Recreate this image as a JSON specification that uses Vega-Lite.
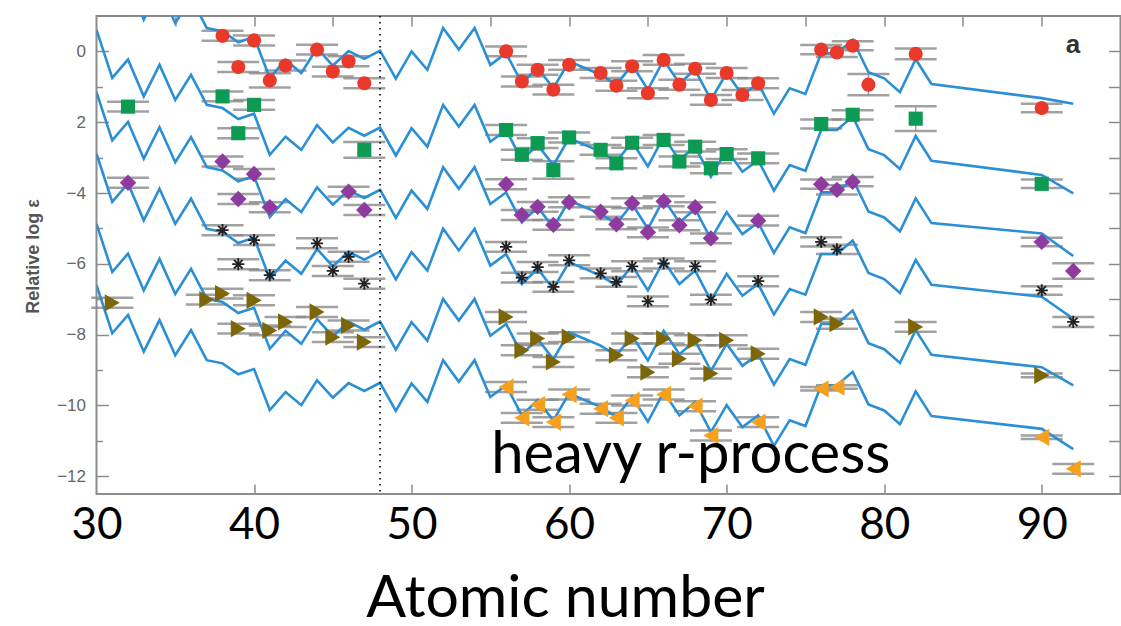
{
  "$schema": "https://vega.github.io/schema/vega-lite/v6.json",
  "width": 1024,
  "height": 478,
  "autosize": {"type": "none"},
  "padding": {"left": 96.5, "top": 16, "right": 0.5, "bottom": 132},
  "background": "white",
  "config": {
    "view": {"stroke": "#8c8c8c", "strokeWidth": 2},
    "axis": {"domain": false, "grid": false, "tickColor": "#8c8c8c", "tickWidth": 1.5}
  },
  "datasets": {
    "lines": [
      {"s":"red","z":30,"v":2.78},{"s":"red","z":31,"v":1.42},{"s":"red","z":32,"v":1.94},{"s":"red","z":33,"v":0.90},{"s":"red","z":34,"v":1.79},{"s":"red","z":35,"v":0.80},{"s":"red","z":36,"v":1.51},{"s":"red","z":37,"v":0.66},{"s":"red","z":38,"v":0.57},{"s":"red","z":39,"v":0.26},{"s":"red","z":40,"v":0.41},{"s":"red","z":41,"v":-0.75},{"s":"red","z":42,"v":-0.24},{"s":"red","z":43,"v":-0.61},{"s":"red","z":44,"v":0.09},{"s":"red","z":45,"v":-0.40},{"s":"red","z":46,"v":0.01},{"s":"red","z":47,"v":-0.21},{"s":"red","z":48,"v":0.02},{"s":"red","z":49,"v":-0.77},{"s":"red","z":50,"v":0.00},{"s":"red","z":51,"v":-0.52},{"s":"red","z":52,"v":0.66},{"s":"red","z":53,"v":0.05},{"s":"red","z":54,"v":0.66},{"s":"red","z":55,"v":-0.38},{"s":"red","z":56,"v":-0.05},{"s":"red","z":57,"v":-0.90},{"s":"red","z":58,"v":-0.47},{"s":"red","z":59,"v":-1.04},{"s":"red","z":60,"v":-0.28},{"s":"red","z":62,"v":-0.66},{"s":"red","z":63,"v":-0.94},{"s":"red","z":64,"v":-0.38},{"s":"red","z":65,"v":-1.08},{"s":"red","z":66,"v":-0.24},{"s":"red","z":67,"v":-0.90},{"s":"red","z":68,"v":-0.52},{"s":"red","z":69,"v":-1.37},{"s":"red","z":70,"v":-0.61},{"s":"red","z":71,"v":-1.23},{"s":"red","z":72,"v":-0.90},{"s":"red","z":73,"v":-1.76},{"s":"red","z":74,"v":-1.04},{"s":"red","z":75,"v":-1.20},{"s":"red","z":76,"v":-0.05},{"s":"red","z":77,"v":-0.05},{"s":"red","z":78,"v":0.33},{"s":"red","z":79,"v":-0.59},{"s":"red","z":80,"v":-0.76},{"s":"red","z":81,"v":-1.15},{"s":"red","z":82,"v":-0.22},{"s":"red","z":83,"v":-0.92},{"s":"red","z":90,"v":-1.32},{"s":"red","z":92,"v":-1.48},

      {"s":"green","z":30,"v":0.61},{"s":"green","z":31,"v":-0.75},{"s":"green","z":32,"v":-0.23},{"s":"green","z":33,"v":-1.27},{"s":"green","z":34,"v":-0.38},{"s":"green","z":35,"v":-1.37},{"s":"green","z":36,"v":-0.66},{"s":"green","z":37,"v":-1.51},{"s":"green","z":38,"v":-1.60},{"s":"green","z":39,"v":-1.91},{"s":"green","z":40,"v":-1.76},{"s":"green","z":41,"v":-2.92},{"s":"green","z":42,"v":-2.41},{"s":"green","z":43,"v":-2.78},{"s":"green","z":44,"v":-2.08},{"s":"green","z":45,"v":-2.57},{"s":"green","z":46,"v":-2.16},{"s":"green","z":47,"v":-2.38},{"s":"green","z":48,"v":-2.15},{"s":"green","z":49,"v":-2.94},{"s":"green","z":50,"v":-2.17},{"s":"green","z":51,"v":-2.69},{"s":"green","z":52,"v":-1.51},{"s":"green","z":53,"v":-2.12},{"s":"green","z":54,"v":-1.51},{"s":"green","z":55,"v":-2.55},{"s":"green","z":56,"v":-2.22},{"s":"green","z":57,"v":-3.07},{"s":"green","z":58,"v":-2.64},{"s":"green","z":59,"v":-3.21},{"s":"green","z":60,"v":-2.45},{"s":"green","z":62,"v":-2.83},{"s":"green","z":63,"v":-3.11},{"s":"green","z":64,"v":-2.55},{"s":"green","z":65,"v":-3.25},{"s":"green","z":66,"v":-2.41},{"s":"green","z":67,"v":-3.07},{"s":"green","z":68,"v":-2.69},{"s":"green","z":69,"v":-3.54},{"s":"green","z":70,"v":-2.78},{"s":"green","z":71,"v":-3.40},{"s":"green","z":72,"v":-3.07},{"s":"green","z":73,"v":-3.93},{"s":"green","z":74,"v":-3.21},{"s":"green","z":75,"v":-3.37},{"s":"green","z":76,"v":-2.22},{"s":"green","z":77,"v":-2.22},{"s":"green","z":78,"v":-1.84},{"s":"green","z":79,"v":-2.76},{"s":"green","z":80,"v":-2.93},{"s":"green","z":81,"v":-3.32},{"s":"green","z":82,"v":-2.39},{"s":"green","z":83,"v":-3.09},{"s":"green","z":90,"v":-3.49},{"s":"green","z":92,"v":-4.01},

      {"s":"purple","z":30,"v":-1.15},{"s":"purple","z":31,"v":-2.51},{"s":"purple","z":32,"v":-1.99},{"s":"purple","z":33,"v":-3.03},{"s":"purple","z":34,"v":-2.14},{"s":"purple","z":35,"v":-3.13},{"s":"purple","z":36,"v":-2.42},{"s":"purple","z":37,"v":-3.27},{"s":"purple","z":38,"v":-3.36},{"s":"purple","z":39,"v":-3.67},{"s":"purple","z":40,"v":-3.52},{"s":"purple","z":41,"v":-4.68},{"s":"purple","z":42,"v":-4.17},{"s":"purple","z":43,"v":-4.54},{"s":"purple","z":44,"v":-3.84},{"s":"purple","z":45,"v":-4.33},{"s":"purple","z":46,"v":-3.92},{"s":"purple","z":47,"v":-4.14},{"s":"purple","z":48,"v":-3.91},{"s":"purple","z":49,"v":-4.70},{"s":"purple","z":50,"v":-3.93},{"s":"purple","z":51,"v":-4.45},{"s":"purple","z":52,"v":-3.27},{"s":"purple","z":53,"v":-3.88},{"s":"purple","z":54,"v":-3.27},{"s":"purple","z":55,"v":-4.31},{"s":"purple","z":56,"v":-3.98},{"s":"purple","z":57,"v":-4.83},{"s":"purple","z":58,"v":-4.40},{"s":"purple","z":59,"v":-4.97},{"s":"purple","z":60,"v":-4.21},{"s":"purple","z":62,"v":-4.59},{"s":"purple","z":63,"v":-4.87},{"s":"purple","z":64,"v":-4.31},{"s":"purple","z":65,"v":-5.01},{"s":"purple","z":66,"v":-4.17},{"s":"purple","z":67,"v":-4.83},{"s":"purple","z":68,"v":-4.45},{"s":"purple","z":69,"v":-5.30},{"s":"purple","z":70,"v":-4.54},{"s":"purple","z":71,"v":-5.16},{"s":"purple","z":72,"v":-4.83},{"s":"purple","z":73,"v":-5.69},{"s":"purple","z":74,"v":-4.97},{"s":"purple","z":75,"v":-5.13},{"s":"purple","z":76,"v":-3.98},{"s":"purple","z":77,"v":-3.98},{"s":"purple","z":78,"v":-3.60},{"s":"purple","z":79,"v":-4.52},{"s":"purple","z":80,"v":-4.69},{"s":"purple","z":81,"v":-5.08},{"s":"purple","z":82,"v":-4.15},{"s":"purple","z":83,"v":-4.85},{"s":"purple","z":90,"v":-5.14},{"s":"purple","z":92,"v":-5.78},

      {"s":"black","z":30,"v":-2.89},{"s":"black","z":31,"v":-4.25},{"s":"black","z":32,"v":-3.73},{"s":"black","z":33,"v":-4.77},{"s":"black","z":34,"v":-3.88},{"s":"black","z":35,"v":-4.87},{"s":"black","z":36,"v":-4.16},{"s":"black","z":37,"v":-5.01},{"s":"black","z":38,"v":-5.10},{"s":"black","z":39,"v":-5.41},{"s":"black","z":40,"v":-5.26},{"s":"black","z":41,"v":-6.42},{"s":"black","z":42,"v":-5.91},{"s":"black","z":43,"v":-6.28},{"s":"black","z":44,"v":-5.58},{"s":"black","z":45,"v":-6.07},{"s":"black","z":46,"v":-5.66},{"s":"black","z":47,"v":-5.88},{"s":"black","z":48,"v":-5.65},{"s":"black","z":49,"v":-6.44},{"s":"black","z":50,"v":-5.67},{"s":"black","z":51,"v":-6.19},{"s":"black","z":52,"v":-5.01},{"s":"black","z":53,"v":-5.62},{"s":"black","z":54,"v":-5.01},{"s":"black","z":55,"v":-6.05},{"s":"black","z":56,"v":-5.72},{"s":"black","z":57,"v":-6.57},{"s":"black","z":58,"v":-6.14},{"s":"black","z":59,"v":-6.71},{"s":"black","z":60,"v":-5.95},{"s":"black","z":62,"v":-6.33},{"s":"black","z":63,"v":-6.61},{"s":"black","z":64,"v":-6.05},{"s":"black","z":65,"v":-6.75},{"s":"black","z":66,"v":-5.91},{"s":"black","z":67,"v":-6.57},{"s":"black","z":68,"v":-6.19},{"s":"black","z":69,"v":-7.04},{"s":"black","z":70,"v":-6.28},{"s":"black","z":71,"v":-6.90},{"s":"black","z":72,"v":-6.57},{"s":"black","z":73,"v":-7.43},{"s":"black","z":74,"v":-6.71},{"s":"black","z":75,"v":-6.87},{"s":"black","z":76,"v":-5.72},{"s":"black","z":77,"v":-5.72},{"s":"black","z":78,"v":-5.34},{"s":"black","z":79,"v":-6.26},{"s":"black","z":80,"v":-6.43},{"s":"black","z":81,"v":-6.82},{"s":"black","z":82,"v":-5.89},{"s":"black","z":83,"v":-6.59},{"s":"black","z":90,"v":-6.93},{"s":"black","z":92,"v":-7.55},

      {"s":"olive","z":30,"v":-4.87},{"s":"olive","z":31,"v":-6.23},{"s":"olive","z":32,"v":-5.71},{"s":"olive","z":33,"v":-6.75},{"s":"olive","z":34,"v":-5.86},{"s":"olive","z":35,"v":-6.85},{"s":"olive","z":36,"v":-6.14},{"s":"olive","z":37,"v":-6.99},{"s":"olive","z":38,"v":-7.08},{"s":"olive","z":39,"v":-7.39},{"s":"olive","z":40,"v":-7.24},{"s":"olive","z":41,"v":-8.40},{"s":"olive","z":42,"v":-7.89},{"s":"olive","z":43,"v":-8.26},{"s":"olive","z":44,"v":-7.56},{"s":"olive","z":45,"v":-8.05},{"s":"olive","z":46,"v":-7.64},{"s":"olive","z":47,"v":-7.86},{"s":"olive","z":48,"v":-7.63},{"s":"olive","z":49,"v":-8.42},{"s":"olive","z":50,"v":-7.65},{"s":"olive","z":51,"v":-8.17},{"s":"olive","z":52,"v":-6.99},{"s":"olive","z":53,"v":-7.60},{"s":"olive","z":54,"v":-6.99},{"s":"olive","z":55,"v":-8.03},{"s":"olive","z":56,"v":-7.70},{"s":"olive","z":57,"v":-8.55},{"s":"olive","z":58,"v":-8.12},{"s":"olive","z":59,"v":-8.69},{"s":"olive","z":60,"v":-7.93},{"s":"olive","z":62,"v":-8.31},{"s":"olive","z":63,"v":-8.59},{"s":"olive","z":64,"v":-8.03},{"s":"olive","z":65,"v":-8.73},{"s":"olive","z":66,"v":-7.89},{"s":"olive","z":67,"v":-8.55},{"s":"olive","z":68,"v":-8.17},{"s":"olive","z":69,"v":-9.02},{"s":"olive","z":70,"v":-8.26},{"s":"olive","z":71,"v":-8.88},{"s":"olive","z":72,"v":-8.55},{"s":"olive","z":73,"v":-9.41},{"s":"olive","z":74,"v":-8.69},{"s":"olive","z":75,"v":-8.85},{"s":"olive","z":76,"v":-7.70},{"s":"olive","z":77,"v":-7.70},{"s":"olive","z":78,"v":-7.32},{"s":"olive","z":79,"v":-8.24},{"s":"olive","z":80,"v":-8.41},{"s":"olive","z":81,"v":-8.80},{"s":"olive","z":82,"v":-7.87},{"s":"olive","z":83,"v":-8.57},{"s":"olive","z":90,"v":-8.92},{"s":"olive","z":92,"v":-9.43},

      {"s":"orange","z":30,"v":-6.60},{"s":"orange","z":31,"v":-7.96},{"s":"orange","z":32,"v":-7.44},{"s":"orange","z":33,"v":-8.48},{"s":"orange","z":34,"v":-7.59},{"s":"orange","z":35,"v":-8.58},{"s":"orange","z":36,"v":-7.87},{"s":"orange","z":37,"v":-8.72},{"s":"orange","z":38,"v":-8.81},{"s":"orange","z":39,"v":-9.12},{"s":"orange","z":40,"v":-8.97},{"s":"orange","z":41,"v":-10.13},{"s":"orange","z":42,"v":-9.62},{"s":"orange","z":43,"v":-9.99},{"s":"orange","z":44,"v":-9.29},{"s":"orange","z":45,"v":-9.78},{"s":"orange","z":46,"v":-9.37},{"s":"orange","z":47,"v":-9.59},{"s":"orange","z":48,"v":-9.36},{"s":"orange","z":49,"v":-10.15},{"s":"orange","z":50,"v":-9.38},{"s":"orange","z":51,"v":-9.90},{"s":"orange","z":52,"v":-8.72},{"s":"orange","z":53,"v":-9.33},{"s":"orange","z":54,"v":-8.72},{"s":"orange","z":55,"v":-9.76},{"s":"orange","z":56,"v":-9.43},{"s":"orange","z":57,"v":-10.28},{"s":"orange","z":58,"v":-9.85},{"s":"orange","z":59,"v":-10.42},{"s":"orange","z":60,"v":-9.66},{"s":"orange","z":62,"v":-10.04},{"s":"orange","z":63,"v":-10.32},{"s":"orange","z":64,"v":-9.76},{"s":"orange","z":65,"v":-10.46},{"s":"orange","z":66,"v":-9.62},{"s":"orange","z":67,"v":-10.28},{"s":"orange","z":68,"v":-9.90},{"s":"orange","z":69,"v":-10.75},{"s":"orange","z":70,"v":-9.99},{"s":"orange","z":71,"v":-10.61},{"s":"orange","z":72,"v":-10.28},{"s":"orange","z":73,"v":-11.14},{"s":"orange","z":74,"v":-10.42},{"s":"orange","z":75,"v":-10.58},{"s":"orange","z":76,"v":-9.43},{"s":"orange","z":77,"v":-9.43},{"s":"orange","z":78,"v":-9.05},{"s":"orange","z":79,"v":-9.97},{"s":"orange","z":80,"v":-10.14},{"s":"orange","z":81,"v":-10.53},{"s":"orange","z":82,"v":-9.60},{"s":"orange","z":83,"v":-10.30},{"s":"orange","z":90,"v":-10.66},{"s":"orange","z":92,"v":-11.23}
    ],
    "pts": [
      {"s":"red","z":38,"v":0.44,"e":0.14},{"s":"red","z":39,"v":-0.44,"e":0.14},{"s":"red","z":40,"v":0.31,"e":0.14},{"s":"red","z":41,"v":-0.82,"e":0.2},{"s":"red","z":42,"v":-0.40,"e":0.14},{"s":"red","z":44,"v":0.05,"e":0.14},{"s":"red","z":45,"v":-0.57,"e":0.14},{"s":"red","z":46,"v":-0.28,"e":0.14},{"s":"red","z":47,"v":-0.90,"e":0.14},{"s":"red","z":56,"v":0.0,"e":0.14},{"s":"red","z":57,"v":-0.85,"e":0.14},{"s":"red","z":58,"v":-0.52,"e":0.14},{"s":"red","z":59,"v":-1.08,"e":0.14},{"s":"red","z":60,"v":-0.38,"e":0.14},{"s":"red","z":62,"v":-0.61,"e":0.14},{"s":"red","z":63,"v":-0.97,"e":0.14},{"s":"red","z":64,"v":-0.42,"e":0.14},{"s":"red","z":65,"v":-1.18,"e":0.14},{"s":"red","z":66,"v":-0.24,"e":0.14},{"s":"red","z":67,"v":-0.94,"e":0.14},{"s":"red","z":68,"v":-0.49,"e":0.14},{"s":"red","z":69,"v":-1.37,"e":0.14},{"s":"red","z":70,"v":-0.61,"e":0.14},{"s":"red","z":71,"v":-1.23,"e":0.14},{"s":"red","z":72,"v":-0.90,"e":0.14},{"s":"red","z":76,"v":0.05,"e":0.13},{"s":"red","z":77,"v":-0.03,"e":0.13},{"s":"red","z":78,"v":0.16,"e":0.13},{"s":"red","z":79,"v":-0.94,"e":0.3},{"s":"red","z":82,"v":-0.07,"e":0.15},{"s":"red","z":90,"v":-1.60,"e":0.12},

      {"s":"green","z":32,"v":-1.56,"e":0.14},{"s":"green","z":38,"v":-1.27,"e":0.14},{"s":"green","z":39,"v":-2.31,"e":0.14},{"s":"green","z":40,"v":-1.51,"e":0.14},{"s":"green","z":47,"v":-2.78,"e":0.22},{"s":"green","z":56,"v":-2.22,"e":0.14},{"s":"green","z":57,"v":-2.92,"e":0.14},{"s":"green","z":58,"v":-2.59,"e":0.14},{"s":"green","z":59,"v":-3.35,"e":0.25},{"s":"green","z":60,"v":-2.43,"e":0.14},{"s":"green","z":62,"v":-2.78,"e":0.14},{"s":"green","z":63,"v":-3.16,"e":0.14},{"s":"green","z":64,"v":-2.58,"e":0.14},{"s":"green","z":66,"v":-2.50,"e":0.14},{"s":"green","z":67,"v":-3.11,"e":0.14},{"s":"green","z":68,"v":-2.69,"e":0.14},{"s":"green","z":69,"v":-3.30,"e":0.14},{"s":"green","z":70,"v":-2.90,"e":0.14},{"s":"green","z":72,"v":-3.02,"e":0.14},{"s":"green","z":76,"v":-2.05,"e":0.13},{"s":"green","z":78,"v":-1.79,"e":0.13},{"s":"green","z":82,"v":-1.90,"e":0.35},{"s":"green","z":90,"v":-3.74,"e":0.12},

      {"s":"purple","z":32,"v":-3.71,"e":0.14},{"s":"purple","z":38,"v":-3.11,"e":0.14},{"s":"purple","z":39,"v":-4.17,"e":0.14},{"s":"purple","z":40,"v":-3.46,"e":0.14},{"s":"purple","z":41,"v":-4.40,"e":0.14},{"s":"purple","z":46,"v":-3.96,"e":0.14},{"s":"purple","z":47,"v":-4.48,"e":0.14},{"s":"purple","z":56,"v":-3.75,"e":0.14},{"s":"purple","z":57,"v":-4.62,"e":0.14},{"s":"purple","z":58,"v":-4.39,"e":0.14},{"s":"purple","z":59,"v":-4.90,"e":0.14},{"s":"purple","z":60,"v":-4.26,"e":0.14},{"s":"purple","z":62,"v":-4.53,"e":0.14},{"s":"purple","z":63,"v":-4.88,"e":0.14},{"s":"purple","z":64,"v":-4.29,"e":0.14},{"s":"purple","z":65,"v":-5.11,"e":0.14},{"s":"purple","z":66,"v":-4.23,"e":0.14},{"s":"purple","z":67,"v":-4.91,"e":0.14},{"s":"purple","z":68,"v":-4.40,"e":0.14},{"s":"purple","z":69,"v":-5.28,"e":0.14},{"s":"purple","z":72,"v":-4.78,"e":0.14},{"s":"purple","z":76,"v":-3.75,"e":0.13},{"s":"purple","z":77,"v":-3.91,"e":0.13},{"s":"purple","z":78,"v":-3.68,"e":0.13},{"s":"purple","z":90,"v":-5.38,"e":0.12},{"s":"purple","z":92,"v":-6.20,"e":0.22},

      {"s":"black","z":38,"v":-5.05,"e":0.14},{"s":"black","z":39,"v":-6.01,"e":0.14},{"s":"black","z":40,"v":-5.33,"e":0.14},{"s":"black","z":41,"v":-6.32,"e":0.14},{"s":"black","z":44,"v":-5.42,"e":0.14},{"s":"black","z":45,"v":-6.20,"e":0.14},{"s":"black","z":46,"v":-5.80,"e":0.14},{"s":"black","z":47,"v":-6.56,"e":0.14},{"s":"black","z":56,"v":-5.52,"e":0.14},{"s":"black","z":57,"v":-6.39,"e":0.14},{"s":"black","z":58,"v":-6.09,"e":0.14},{"s":"black","z":59,"v":-6.65,"e":0.14},{"s":"black","z":60,"v":-5.90,"e":0.14},{"s":"black","z":62,"v":-6.27,"e":0.14},{"s":"black","z":63,"v":-6.51,"e":0.14},{"s":"black","z":64,"v":-6.07,"e":0.14},{"s":"black","z":65,"v":-7.06,"e":0.14},{"s":"black","z":66,"v":-5.99,"e":0.14},{"s":"black","z":68,"v":-6.07,"e":0.14},{"s":"black","z":69,"v":-7.01,"e":0.14},{"s":"black","z":72,"v":-6.49,"e":0.14},{"s":"black","z":76,"v":-5.38,"e":0.13},{"s":"black","z":77,"v":-5.59,"e":0.13},{"s":"black","z":90,"v":-6.75,"e":0.12},{"s":"black","z":92,"v":-7.64,"e":0.14},

      {"s":"olive","z":31,"v":-7.10,"e":0.14},{"s":"olive","z":37,"v":-7.01,"e":0.14},{"s":"olive","z":38,"v":-6.84,"e":0.14},{"s":"olive","z":39,"v":-7.83,"e":0.14},{"s":"olive","z":40,"v":-7.03,"e":0.14},{"s":"olive","z":41,"v":-7.88,"e":0.14},{"s":"olive","z":42,"v":-7.64,"e":0.14},{"s":"olive","z":44,"v":-7.36,"e":0.14},{"s":"olive","z":45,"v":-8.07,"e":0.14},{"s":"olive","z":46,"v":-7.74,"e":0.14},{"s":"olive","z":47,"v":-8.21,"e":0.14},{"s":"olive","z":56,"v":-7.50,"e":0.14},{"s":"olive","z":57,"v":-8.44,"e":0.14},{"s":"olive","z":58,"v":-8.11,"e":0.14},{"s":"olive","z":59,"v":-8.77,"e":0.14},{"s":"olive","z":60,"v":-8.07,"e":0.14},{"s":"olive","z":63,"v":-8.58,"e":0.14},{"s":"olive","z":64,"v":-8.11,"e":0.14},{"s":"olive","z":65,"v":-9.06,"e":0.14},{"s":"olive","z":66,"v":-8.11,"e":0.14},{"s":"olive","z":67,"v":-8.68,"e":0.14},{"s":"olive","z":68,"v":-8.16,"e":0.14},{"s":"olive","z":69,"v":-9.10,"e":0.14},{"s":"olive","z":70,"v":-8.16,"e":0.14},{"s":"olive","z":72,"v":-8.54,"e":0.14},{"s":"olive","z":76,"v":-7.50,"e":0.14},{"s":"olive","z":77,"v":-7.69,"e":0.14},{"s":"olive","z":82,"v":-7.78,"e":0.14},{"s":"olive","z":90,"v":-9.15,"e":0.05},

      {"s":"orange","z":56,"v":-9.48,"e":0.14},{"s":"orange","z":57,"v":-10.35,"e":0.14},{"s":"orange","z":58,"v":-9.98,"e":0.14},{"s":"orange","z":59,"v":-10.47,"e":0.14},{"s":"orange","z":60,"v":-9.69,"e":0.14},{"s":"orange","z":62,"v":-10.09,"e":0.14},{"s":"orange","z":63,"v":-10.35,"e":0.14},{"s":"orange","z":64,"v":-9.86,"e":0.14},{"s":"orange","z":66,"v":-9.69,"e":0.14},{"s":"orange","z":68,"v":-10.02,"e":0.14},{"s":"orange","z":69,"v":-10.85,"e":0.14},{"s":"orange","z":72,"v":-10.47,"e":0.14},{"s":"orange","z":76,"v":-9.53,"e":0.05},{"s":"orange","z":77,"v":-9.48,"e":0.05},{"s":"orange","z":90,"v":-10.90,"e":0.05},{"s":"orange","z":92,"v":-11.79,"e":0.14}
    ]
  },
  "resolve": {"axis": {"x": "independent", "y": "independent"}},
  "layer": [
    {
      "data": {"name": "pts"},
      "mark": {"type": "errorbar", "color": "#8a8a8a", "opacity": 0.8, "ticks": {"size": 42, "thickness": 2.5}, "rule": {"strokeWidth": 1.5}},
      "encoding": {
        "x": {"field": "z", "type": "quantitative", "scale": {"domain": [30, 95], "nice": false, "zero": false},
              "axis": {"orient": "top", "values": [35,40,45,50,55,60,65,70,75,80,85,90], "tickSize": -10, "labels": false, "title": null}},
        "y": {"field": "v", "type": "quantitative", "scale": {"domain": [-12.5, 1.0], "nice": false, "zero": false},
              "axis": {"orient": "right", "values": [-12,-11,-10,-9,-8,-7,-6,-5,-4,-3,-2,-1,0], "tickSize": -12, "labels": false, "title": null}},
        "yError": {"field": "e"}
      }
    },
    {
      "data": {"name": "lines"},
      "mark": {"type": "line", "color": "#2b8fd6", "strokeWidth": 2.6, "clip": true},
      "encoding": {
        "x": {"field": "z", "type": "quantitative", "scale": {"domain": [30, 95], "nice": false, "zero": false},
              "axis": {"orient": "bottom", "values": [30,40,50,60,70,80,90], "ticks": false, "labelFont": "Lato", "labelFontSize": 44, "labelColor": "#000", "labelPadding": 44, "labelBaseline": "alphabetic", "labelFlush": false, "labelOverlap": false,
                       "title": "Atomic number", "titleFont": "Lato", "titleFontSize": 59, "titleFontWeight": "normal", "titleColor": "#000", "titleX": 468.5, "titleY": 122, "titleAlign": "center", "titleBaseline": "alphabetic", "titleAnchor": null}},
        "y": {"field": "v", "type": "quantitative", "scale": {"domain": [-12.5, 1.0], "nice": false, "zero": false},
              "axis": {"orient": "left", "values": [-12,-10,-8,-6,-4,-2,0], "ticks": false, "labelFont": "Liberation Sans", "labelFontSize": 17, "labelColor": "#666", "labelPadding": 11, "labelBaseline": "middle", "labelOverlap": false,
                       "labelExpr": "datum.value == -2 ? '2' : datum.label",
                       "title": "Relative log ε", "titleFont": "Liberation Sans", "titleFontSize": 18, "titleFontWeight": "bold", "titleColor": "#555", "titleAngle": -90, "titleX": -63.5, "titleY": 240, "titleAlign": "center", "titleBaseline": "middle"}},
        "detail": {"field": "s"}
      }
    },
    {
      "data": {"values": [{"z": 48}]},
      "mark": {"type": "rule", "color": "#000", "strokeWidth": 1.6, "strokeDash": [1.6, 4.4]},
      "encoding": {
        "x": {"field": "z", "type": "quantitative", "scale": {"domain": [30, 95], "nice": false, "zero": false},
              "axis": {"orient": "bottom", "values": [40,50,60,70,80,90], "tickSize": -10, "labels": false, "title": null}}
      }
    },
    {
      "data": {"name": "pts"},
      "transform": [{"filter": "datum.s == 'red' || datum.s == 'green'"}],
      "mark": {"type": "point", "filled": true, "opacity": 1, "size": 200},
      "encoding": {
        "x": {"field": "z", "type": "quantitative", "scale": {"domain": [30, 95], "nice": false, "zero": false}, "axis": null},
        "y": {"field": "v", "type": "quantitative", "scale": {"domain": [-12.5, 1.0], "nice": false, "zero": false},
              "axis": {"orient": "left", "values": [-12,-10,-8,-6,-4,-2,0], "tickSize": -12, "labels": false, "title": null}},
        "color": {"field": "s", "type": "nominal", "legend": null,
                  "scale": {"domain": ["red","green","purple","olive","orange"], "range": ["#e8392b","#0d9a52","#8e3a9e","#7d6608","#f7a01e"]}},
        "shape": {"field": "s", "type": "nominal", "legend": null,
                  "scale": {"domain": ["red","green","purple","olive","orange"], "range": ["circle","square","diamond","triangle-right","triangle-left"]}}
      }
    },
    {
      "data": {"name": "pts"},
      "transform": [{"filter": "datum.s == 'purple'"}],
      "mark": {"type": "point", "filled": true, "opacity": 1, "size": 270, "shape": "diamond", "color": "#8e3a9e"},
      "encoding": {
        "x": {"field": "z", "type": "quantitative", "scale": {"domain": [30, 95], "nice": false, "zero": false}, "axis": null},
        "y": {"field": "v", "type": "quantitative", "scale": {"domain": [-12.5, 1.0], "nice": false, "zero": false}, "axis": null}
      }
    },
    {
      "data": {"name": "pts"},
      "transform": [{"filter": "datum.s == 'olive' || datum.s == 'orange'"}],
      "mark": {"type": "point", "filled": true, "opacity": 1, "size": 300},
      "encoding": {
        "x": {"field": "z", "type": "quantitative", "scale": {"domain": [30, 95], "nice": false, "zero": false}, "axis": null},
        "y": {"field": "v", "type": "quantitative", "scale": {"domain": [-12.5, 1.0], "nice": false, "zero": false}, "axis": null},
        "color": {"field": "s", "type": "nominal", "legend": null,
                  "scale": {"domain": ["red","green","purple","olive","orange"], "range": ["#e8392b","#0d9a52","#8e3a9e","#7d6608","#f7a01e"]}},
        "shape": {"field": "s", "type": "nominal", "legend": null,
                  "scale": {"domain": ["red","green","purple","olive","orange"], "range": ["circle","square","diamond","triangle-right","triangle-left"]}}
      }
    },
    {
      "data": {"name": "pts"},
      "transform": [{"filter": "datum.s == 'black'"}],
      "mark": {"type": "point", "shape": "M-1,0L1,0M0,-1L0,1M-0.7,-0.7L0.7,0.7M-0.7,0.7L0.7,-0.7", "filled": false, "stroke": "#222", "strokeWidth": 1.8, "size": 150, "opacity": 1},
      "encoding": {
        "x": {"field": "z", "type": "quantitative", "scale": {"domain": [30, 95], "nice": false, "zero": false}, "axis": null},
        "y": {"field": "v", "type": "quantitative", "scale": {"domain": [-12.5, 1.0], "nice": false, "zero": false},
              "axis": {"orient": "left", "values": [-11,-9,-7,-5,-3,-1], "tickSize": -6, "labels": false, "title": null}}
      }
    },
    {
      "data": {"values": [{"z": 55.05, "v": -11.92, "t": "heavy r-process"}]},
      "mark": {"type": "text", "font": "Lato", "fontSize": 58, "color": "#000", "align": "left", "baseline": "alphabetic"},
      "encoding": {
        "x": {"field": "z", "type": "quantitative", "scale": {"domain": [30, 95], "nice": false, "zero": false}, "axis": null},
        "y": {"field": "v", "type": "quantitative", "scale": {"domain": [-12.5, 1.0], "nice": false, "zero": false}, "axis": null},
        "text": {"field": "t"}
      }
    },
    {
      "data": {"values": [{"z": 91.98, "v": -0.045, "t": "a"}]},
      "mark": {"type": "text", "font": "Liberation Sans", "fontSize": 26, "fontWeight": "bold", "color": "#333", "align": "center", "baseline": "alphabetic"},
      "encoding": {
        "x": {"field": "z", "type": "quantitative", "scale": {"domain": [30, 95], "nice": false, "zero": false}, "axis": null},
        "y": {"field": "v", "type": "quantitative", "scale": {"domain": [-12.5, 1.0], "nice": false, "zero": false}, "axis": null},
        "text": {"field": "t"}
      }
    }
  ]
}
